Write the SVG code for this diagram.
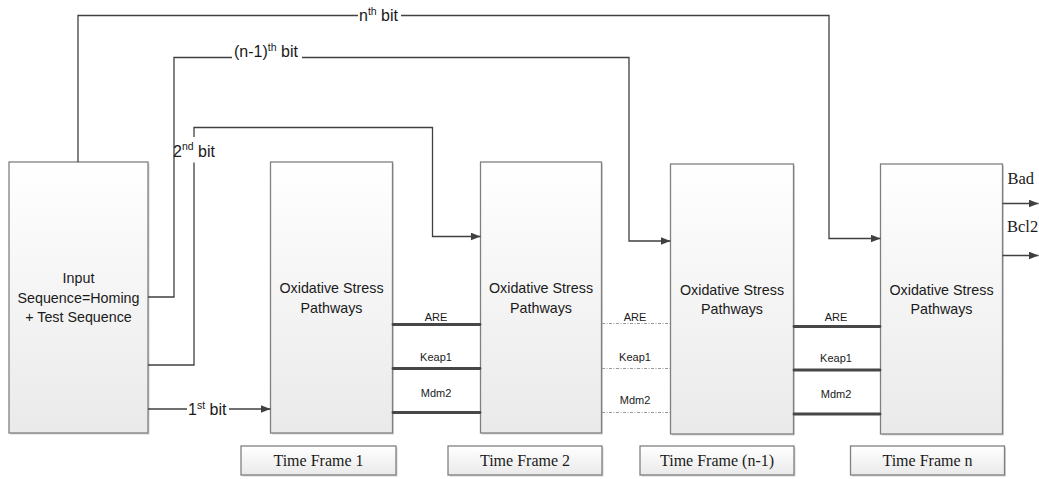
<svg xmlns="http://www.w3.org/2000/svg" width="1039" height="479" viewBox="0 0 1039 479">
  <defs>
    <linearGradient id="boxFill" x1="0" y1="0" x2="0" y2="1">
      <stop offset="0" stop-color="#ffffff"/>
      <stop offset="1" stop-color="#eaeaea"/>
    </linearGradient>
    <marker id="arrow" markerUnits="userSpaceOnUse" markerWidth="11" markerHeight="9" refX="10" refY="4" orient="auto">
      <path d="M0,0 L10,4 L0,8 z" fill="#404040"/>
    </marker>
    <style>
      .box { fill: url(#boxFill); stroke: #808080; stroke-width: 1.3; }
      .shadow { fill: #d4d4d4; }
      .wire { fill: none; stroke: #404040; stroke-width: 1.3; }
      .bus { fill: none; stroke: #474747; stroke-width: 2.8; stroke-linecap: round; }
      .dotbus { fill: none; stroke: #9a9a9a; stroke-width: 1; stroke-dasharray: 3 1.5 1 1.5; }
      .lbl { font-family: "Liberation Sans", Arial, sans-serif; font-size: 14.3px; fill: #1a1a1a; }
      .bit { font-family: "Liberation Sans", Arial, sans-serif; font-size: 16px; fill: #1a1a1a; }
      .sig { font-family: "Liberation Sans", Arial, sans-serif; font-size: 11px; fill: #1a1a1a; text-anchor: middle; }
      .tf { font-family: "Liberation Serif", "Times New Roman", serif; font-size: 16px; fill: #1a1a1a; text-anchor: middle; }
      .out { font-family: "Liberation Serif", "Times New Roman", serif; font-size: 16.5px; fill: #1a1a1a; }
      .mid { text-anchor: middle; }
      .sup { font-size: 10.5px; }
    </style>
  </defs>

  <rect width="1039" height="479" fill="#ffffff"/>

  <!-- input block -->
  <g id="input">
    <rect class="shadow" x="10.5" y="163.5" width="139" height="271"/>
    <rect class="box" x="9" y="162" width="139" height="271"/>
    <text class="lbl mid" x="78.5" y="283">Input</text>
    <text class="lbl mid" x="78.5" y="303">Sequence=Homing</text>
    <text class="lbl mid" x="78.5" y="322">+ Test Sequence</text>
  </g>

  <!-- pathway blocks -->
  <g id="frame1">
    <rect class="shadow" x="272" y="163.5" width="122" height="271"/>
    <rect class="box" x="270.5" y="162" width="122" height="271"/>
    <text class="lbl mid" x="331.5" y="293">Oxidative Stress</text>
    <text class="lbl mid" x="331.5" y="313">Pathways</text>
  </g>
  <g id="frame2">
    <rect class="shadow" x="482" y="163.5" width="121" height="271"/>
    <rect class="box" x="480.5" y="162" width="121" height="271"/>
    <text class="lbl mid" x="541" y="293">Oxidative Stress</text>
    <text class="lbl mid" x="541" y="313">Pathways</text>
  </g>
  <g id="frame3">
    <rect class="shadow" x="672" y="165.5" width="123" height="270"/>
    <rect class="box" x="670.5" y="164" width="123" height="270"/>
    <text class="lbl mid" x="732" y="295">Oxidative Stress</text>
    <text class="lbl mid" x="732" y="314">Pathways</text>
  </g>
  <g id="frame4">
    <rect class="shadow" x="882" y="165.5" width="122" height="270"/>
    <rect class="box" x="880.5" y="164" width="122" height="270"/>
    <text class="lbl mid" x="941.5" y="295">Oxidative Stress</text>
    <text class="lbl mid" x="941.5" y="314">Pathways</text>
  </g>

  <!-- time frame captions -->
  <g id="tf1">
    <rect class="shadow" x="242.5" y="447.5" width="155" height="29"/>
    <rect class="box" x="241" y="446" width="155" height="29"/>
    <text class="tf" x="318.5" y="466">Time Frame 1</text>
  </g>
  <g id="tf2">
    <rect class="shadow" x="449.5" y="447.5" width="154" height="29"/>
    <rect class="box" x="448" y="446" width="154" height="29"/>
    <text class="tf" x="525" y="466">Time Frame 2</text>
  </g>
  <g id="tf3">
    <rect class="shadow" x="641.5" y="447.5" width="154" height="29"/>
    <rect class="box" x="640" y="446" width="154" height="29"/>
    <text class="tf" x="717" y="466">Time Frame (n-1)</text>
  </g>
  <g id="tf4">
    <rect class="shadow" x="852" y="447.5" width="154" height="29"/>
    <rect class="box" x="850.5" y="446" width="154" height="29"/>
    <text class="tf" x="927.5" y="466">Time Frame n</text>
  </g>

  <!-- connectors -->
  <g id="connectors">
    <!-- bit feeds -->
    <path class="wire" d="M148,409 H187"/>
    <path class="wire" d="M229,409 H270.5" marker-end="url(#arrow)"/>
    <path class="wire" d="M148,365 H194 V162.5"/>
    <path class="wire" d="M194,137 V127.5 H432.5 V236.5 H480.5" marker-end="url(#arrow)"/>
    <path class="wire" d="M148,297 H174 V57.5 H232"/>
    <path class="wire" d="M302,57.5 H629 V241 H670.5" marker-end="url(#arrow)"/>
    <path class="wire" d="M78,162 V15.5 H358"/>
    <path class="wire" d="M401,15.5 H829 V238.5 H880.5" marker-end="url(#arrow)"/>

    <!-- signals between frames -->
    <path class="bus" d="M393,324.5 H480 M393,368.5 H480 M393,412.5 H480"/>
    <path class="dotbus" d="M602,323.5 H670 M602,368.5 H670 M602,412.5 H670"/>
    <path class="bus" d="M794,326.5 H880 M794,370 H880 M794,414 H880"/>

    <!-- outputs -->
    <path class="wire" d="M1002.5,203.5 H1038.5" marker-end="url(#arrow)"/>
    <path class="wire" d="M1002.5,255.5 H1038.5" marker-end="url(#arrow)"/>
  </g>

  <!-- connector labels -->
  <g id="labels">
    <text class="bit" x="188" y="415">1<tspan class="sup" dy="-6.5">st</tspan><tspan dy="6.5"> bit</tspan></text>
    <text class="bit" x="173" y="156.5">2<tspan class="sup" dy="-6.5">nd</tspan><tspan dy="6.5"> bit</tspan></text>
    <text class="bit" x="234" y="57">(n-1)<tspan class="sup" dy="-6.5">th</tspan><tspan dy="6.5"> bit</tspan></text>
    <text class="bit" x="359" y="21">n<tspan class="sup" dy="-6.5">th</tspan><tspan dy="6.5"> bit</tspan></text>

    <text class="sig" x="436" y="320.5">ARE</text>
    <text class="sig" x="436" y="360.5">Keap1</text>
    <text class="sig" x="436" y="397">Mdm2</text>
    <text class="sig" x="635" y="320.5">ARE</text>
    <text class="sig" x="635" y="360.5">Keap1</text>
    <text class="sig" x="635" y="404">Mdm2</text>
    <text class="sig" x="836" y="320.5">ARE</text>
    <text class="sig" x="836" y="362">Keap1</text>
    <text class="sig" x="836" y="398">Mdm2</text>

    <text class="out" x="1007.5" y="183.5">Bad</text>
    <text class="out" x="1007" y="231.5">Bcl2</text>
  </g>
</svg>
